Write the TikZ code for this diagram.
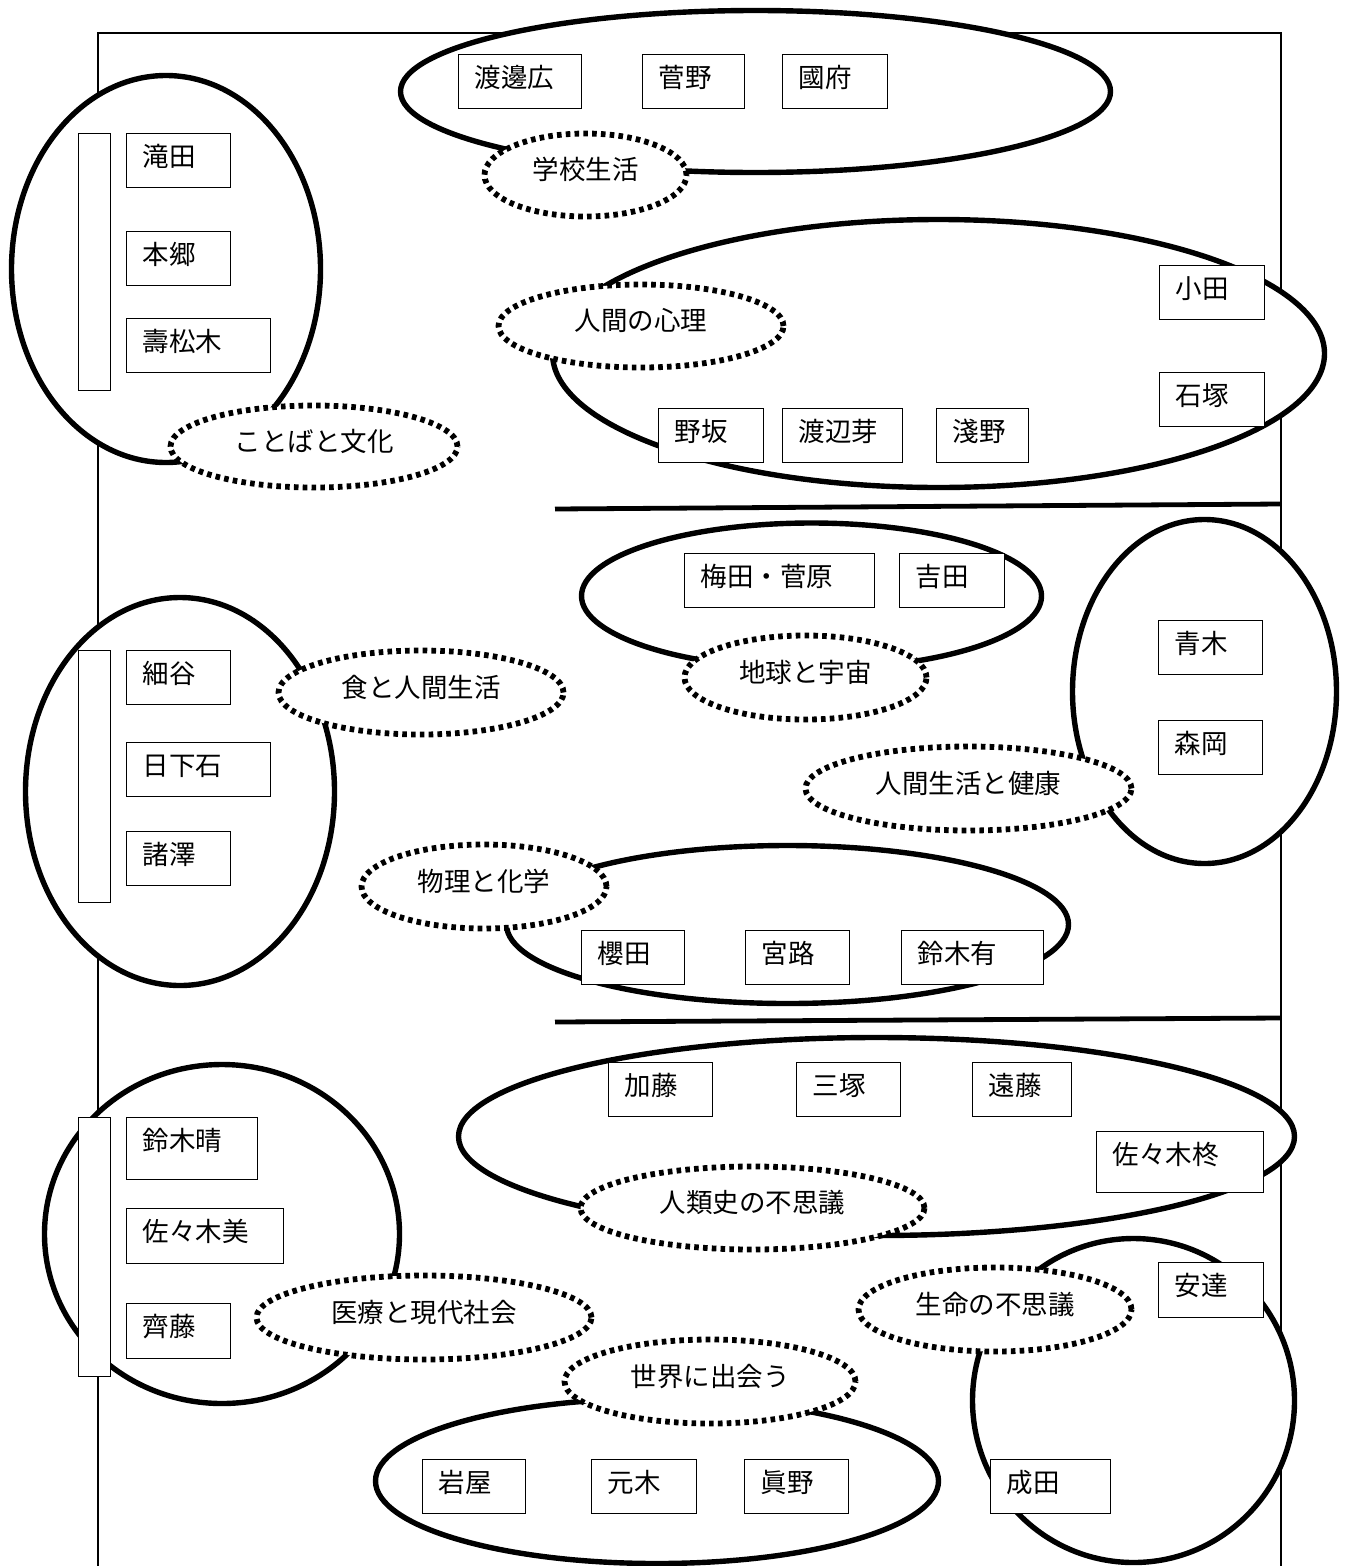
\documentclass[tikz,border=0pt]{standalone}
\usepackage{fontspec}
\usepackage{tikz}
\usetikzlibrary{shapes.geometric, positioning}
\newfontfamily\jpfont{Noto Sans CJK JP}
\tikzset{
x=1pt, y=-1pt, % one unit is one pixel of the sheet, y runs down
every node/.style={font=\jpfont\fontsize{26.5}{30}\selectfont}, % all labels
group/.style={ellipse, draw, fill=white, line width=5.4pt, inner sep=0pt}, % solid ring round a group
topic/.style={ellipse, draw, fill=white, line width=5.8pt, dash pattern=on 4.6pt off 4.2pt, inner sep=0pt, text height=21pt, text depth=12pt}, % dotted theme label
namebox/.style={draw, fill=white, line width=1.4pt, anchor=north west, inner xsep=16pt, inner ysep=0pt, align=left, text height=33pt, text depth=21pt}, % one name
bar/.style={draw, fill=white, line width=1.4pt, anchor=north west, inner sep=0pt, minimum width=32pt}, % empty upright bar
frame/.style={line width=1.5pt}, % outer frame
divider/.style={line width=4.8pt}, % thick rule between the bands
}
\begin{document}
\begin{tikzpicture}
    \fill[white] (0,0) rectangle (1346,1566);
    \useasboundingbox (0,0) rectangle (1346,1566);

    \draw[frame] (98,1566) -- (98,33) -- (1281,33) -- (1281,1566);
    \draw[divider] (555,509) -- (1281,504);
    \draw[divider] (555,1022) -- (1281,1018);

    % groups
    \node[group, minimum width=710pt, minimum height=162pt] (g1) at (755.5,91.5) {};
    \node[group, minimum width=309pt, minimum height=387pt] (g2) at (166,269) {};
    \node[group, minimum width=772pt, minimum height=268pt] (g3) at (938.5,353.5) {};
    \node[group, minimum width=460pt, minimum height=146pt] (g4) at (811.5,596) {};
    \node[group, minimum width=264pt, minimum height=344pt] (g5) at (1204.5,691.5) {};
    \node[group, minimum width=309pt, minimum height=388pt] (g6) at (180,791.5) {};
    \node[group, minimum width=562pt, minimum height=158pt] (g7) at (787.5,924.5) {};
    \node[group, minimum width=836pt, minimum height=198pt] (g8) at (876.5,1136.5) {};
    \node[group, minimum width=355pt, minimum height=339pt] (g9) at (222,1234) {};
    \node[group, minimum width=322pt, minimum height=324pt] (g10) at (1133.5,1400.5) {};
    \node[group, minimum width=563pt, minimum height=165pt] (g11) at (657,1481) {};

    % themes
    \node[topic, minimum width=202pt, minimum height=83pt] (t1) at (585.5,175) {学校生活};
    \node[topic, minimum width=287pt, minimum height=82pt] (t2) at (314,446.5) {ことばと文化};
    \node[topic, minimum width=285pt, minimum height=83pt] (t3) at (641,326) {人間の心理};
    \node[topic, minimum width=242pt, minimum height=84pt] (t4) at (805.5,677.5) {地球と宇宙};
    \node[topic, minimum width=285pt, minimum height=84pt] (t5) at (421,692.5) {食と人間生活};
    \node[topic, minimum width=326pt, minimum height=84pt] (t6) at (968.5,788.5) {人間生活と健康};
    \node[topic, minimum width=245pt, minimum height=84pt] (t7) at (484,886.5) {物理と化学};
    \node[topic, minimum width=344pt, minimum height=83pt] (t8) at (752.5,1208) {人類史の不思議};
    \node[topic, minimum width=335pt, minimum height=84pt] (t9) at (424,1317.5) {医療と現代社会};
    \node[topic, minimum width=273pt, minimum height=84pt] (t10) at (995,1309.5) {生命の不思議};
    \node[topic, minimum width=291pt, minimum height=84pt] (t11) at (710,1381.5) {世界に出会う};

    % bars
    \node[bar, minimum height=257pt] (b1) at (78,133) {};
    \node[bar, minimum height=252pt] (b2) at (78,650) {};
    \node[bar, minimum height=259pt] (b3) at (78,1117) {};

    % names
    \node[namebox, text width=91pt] (n1) at (458,54) {渡邊広};
    \node[namebox, text width=70pt] (n2) at (642,54) {菅野};
    \node[namebox, text width=73pt] (n3) at (782,54) {國府};
    \node[namebox, text width=72pt] (n4) at (126,133) {滝田};
    \node[namebox, text width=72pt] (n5) at (126,231) {本郷};
    \node[namebox, text width=112pt] (n6) at (126,318) {壽松木};
    \node[namebox, text width=73pt] (n7) at (1159,265) {小田};
    \node[namebox, text width=73pt] (n8) at (1159,372) {石塚};
    \node[namebox, text width=73pt] (n9) at (658,408) {野坂};
    \node[namebox, text width=88pt] (n10) at (782,408) {渡辺芽};
    \node[namebox, text width=60pt] (n11) at (936,408) {淺野};
    \node[namebox, text width=158pt] (n12) at (684,553) {梅田・菅原};
    \node[namebox, text width=73pt] (n13) at (899,553) {吉田};
    \node[namebox, text width=72pt] (n14) at (1158,620) {青木};
    \node[namebox, text width=72pt] (n15) at (1158,720) {森岡};
    \node[namebox, text width=72pt] (n16) at (126,650) {細谷};
    \node[namebox, text width=112pt] (n17) at (126,742) {日下石};
    \node[namebox, text width=72pt] (n18) at (126,831) {諸澤};
    \node[namebox, text width=71pt] (n19) at (581,930) {櫻田};
    \node[namebox, text width=72pt] (n20) at (745,930) {宮路};
    \node[namebox, text width=110pt] (n21) at (901,930) {鈴木有};
    \node[namebox, text width=72pt] (n22) at (608,1062) {加藤};
    \node[namebox, text width=72pt] (n23) at (796,1062) {三塚};
    \node[namebox, text width=67pt] (n24) at (972,1062) {遠藤};
    \node[namebox, text width=135pt, text depth=28pt] (n25) at (1096,1131) {佐々木柊};
    \node[namebox, text width=99pt, text depth=29pt] (n26) at (126,1117) {鈴木晴};
    \node[namebox, text width=125pt, text depth=22pt] (n27) at (126,1208) {佐々木美};
    \node[namebox, text width=72pt, text depth=22pt] (n28) at (126,1303) {齊藤};
    \node[namebox, text width=73pt, text depth=22pt] (n29) at (1158,1262) {安達};
    \node[namebox, text width=88pt] (n30) at (990,1459) {成田};
    \node[namebox, text width=71pt] (n31) at (422,1459) {岩屋};
    \node[namebox, text width=73pt] (n32) at (591,1459) {元木};
    \node[namebox, text width=72pt] (n33) at (744,1459) {眞野};
\end{tikzpicture}
\end{document}
